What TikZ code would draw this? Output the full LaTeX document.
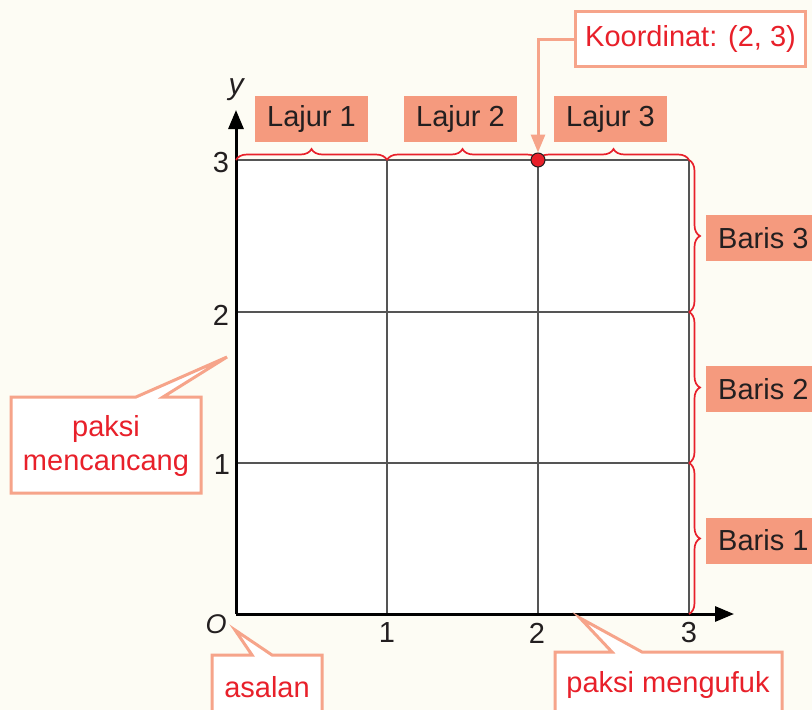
\documentclass[tikz,border=0pt]{standalone}
\usepackage{fontspec}
\setmainfont{Liberation Sans}
\usetikzlibrary{decorations.pathreplacing,arrows.meta,calc}
\definecolor{bg}{HTML}{FDFCF4}
\definecolor{salmon}{HTML}{F59A7E}
\definecolor{salmonline}{HTML}{F6A48A}
\definecolor{redtext}{HTML}{E8202A}
\definecolor{ink}{HTML}{231F20}
\definecolor{gridgray}{HTML}{555555}
\begin{document}
\begin{tikzpicture}[x=1pt,y=-1pt,
  every node/.style={font=\fontsize{29}{34}\selectfont, inner sep=0pt},
  lab/.style={fill=salmon, text=ink, minimum width=113pt, minimum height=46pt},
  rowlab/.style={fill=salmon, text=ink, minimum height=46pt, anchor=west, inner xsep=12pt, minimum width=112pt, align=left},
  callout/.style={draw=salmonline, line width=3pt, fill=white, line join=miter},
  calltext/.style={text=redtext, align=center},
  redbrace/.style={draw=redtext, line width=1.7pt, decorate, decoration={brace, amplitude=11pt}},
  gridline/.style={draw=gridgray, line width=1.5pt},
  axis/.style={draw=black, line width=3pt, -{Triangle[length=19pt,width=15pt]}},
  tick/.style={text=ink}
]
\useasboundingbox (0,0) rectangle (812,710);
\clip (0,0) rectangle (812,710);
\fill[bg] (0,0) rectangle (812,710);

% grid
\fill[white] (236,160) rectangle (689,614);
\foreach \x in {387,538,689} \draw[gridline] (\x,160) -- (\x,614);
\foreach \y in {160,312,463} \draw[gridline] (236,\y) -- (689,\y);

% axes
\coordinate (O) at (236,614);
\coordinate (xend) at (734,614);
\coordinate (yend) at (236,110);
\draw[axis] (O) -- (xend);
\draw[axis] (O) -- (yend);

% axis labels
\node[tick, font=\fontsize{30}{34}\selectfont\itshape] (ylab) at (236,90) {y};
\node[tick, font=\fontsize{27}{30}\selectfont\itshape] (olab) at (216,624) {O};
\node[tick] (y3) at (221,163) {3};
\node[tick] (y2) at (221,315) {2};
\node[tick] (y1) at (222,465) {1};
\node[tick] (x1) at (387,633) {1};
\node[tick] (x2) at (537,633) {2};
\node[tick] (x3) at (689,633) {3};

% top braces and column labels
\draw[redbrace] (236,160) -- (387,160);
\draw[redbrace] (387,160) -- (538,160);
\draw[redbrace] (538,160) -- (689,160);
\node[lab] (l1) at (311.5,119) {Lajur 1};
\node[lab] (l2) at (460.5,119) {Lajur 2};
\node[lab] (l3) at (610.5,119) {Lajur 3};

% right braces and row labels
\draw[redbrace] (689,160) -- (689,312);
\draw[redbrace] (689,312) -- (689,463);
\draw[redbrace] (689,463) -- (689,614);
\node[rowlab] (b3) at (706,238) {Baris 3};
\node[rowlab] (b2) at (706,389) {Baris 2};
\node[rowlab] (b1) at (706,540.5) {Baris 1};

% coordinate point and callout
\node[circle, fill=redtext, draw=ink, line width=1pt, minimum size=14pt] (dot) at (538,160) {};
\node[draw=salmonline, line width=3pt, fill=white, text=redtext, minimum width=230pt, minimum height=55pt] (koord) at (690.5,39) {Koordinat: (2, 3)};
\draw[salmonline, line width=3pt, -{Triangle[length=18pt,width=14pt]}] (koord.west) -| (dot.north);

% left callout
\draw[callout] (11,397) -- (136,397) -- (227,357) -- (163,397) -- (201,397) -- (201,493) -- (11,493) -- cycle;
\node[calltext] (vert) at (106,446) {paksi\\mencancang};

% origin callout
\draw[callout] (212,655) -- (252,655) -- (235,630) -- (272,655) -- (322,655) -- (322,730) -- (212,730) -- cycle;
\node[calltext] (orig) at (267,687) {asalan};

% horizontal axis callout
\draw[callout] (555,652) -- (612,652) -- (580,618) -- (642,652) -- (782,652) -- (782,730) -- (555,730) -- cycle;
\node[calltext] (horz) at (668,685) {paksi mengufuk};
\end{tikzpicture}
\end{document}
